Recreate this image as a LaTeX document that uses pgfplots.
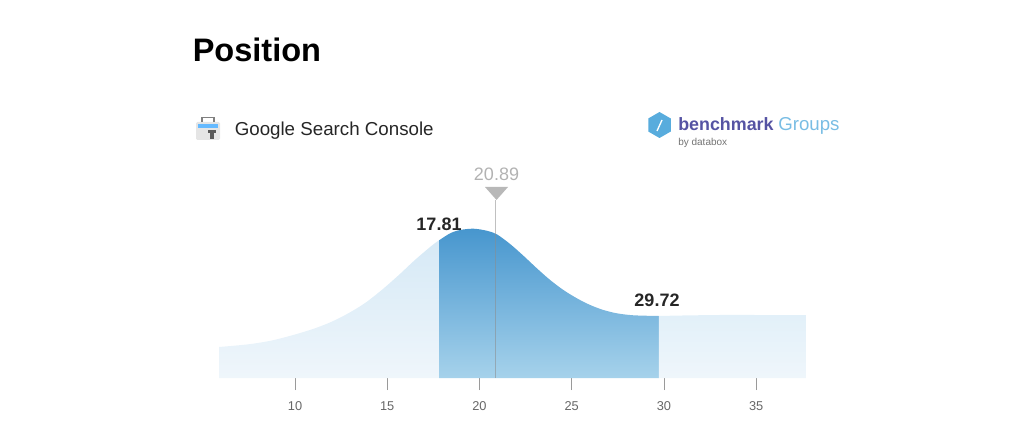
\documentclass[border=0pt]{standalone}
\usepackage{pgfplots}
\pgfplotsset{compat=1.18}
\usepackage{fontspec}
\setmainfont{Liberation Sans}
\usetikzlibrary{shapes.geometric}
\definecolor{darktop}{HTML}{4796CE}
\definecolor{darkbot}{HTML}{A6D2EB}
\definecolor{lighttop}{HTML}{D6E9F6}
\definecolor{lightbot}{HTML}{EFF6FB}
\definecolor{righttop}{HTML}{E2F0F9}
\definecolor{tickc}{HTML}{9A9A9A}
\definecolor{benchc}{HTML}{5553A3}
\definecolor{groupc}{HTML}{58ACDD}
\begin{document}
\begin{tikzpicture}
\begin{axis}[
  at={(164.25pt,43.5pt)}, anchor=south west,
  scale only axis, width=440.25pt, height=112.5pt,
  xmin=5.88, xmax=37.7, ymin=0, ymax=150,
  clip=false,
  axis line style={draw=none},
  ytick=\empty,
  xtick={10,15,20,25,30,35},
  xtick pos=bottom,
  tick style={draw=tickc,line width=0.6pt},
  major tick length=9pt,
  tick align=outside,
  xticklabel style={font=\fontsize{9.6}{11}\selectfont,text=black!60,yshift=-5.5pt},
  /pgf/number format/assume math mode=true,
]
\addplot[draw=none,smooth,top color=lighttop,bottom color=lightbot] coordinates {
(5.88,31)(7.47,33.7)(8.74,37.5)(10.0,43.5)(11.08,49.7)(11.99,56.3)(12.89,64.7)(13.8,75)(14.7,88)(15.6,102.5)(16.5,118)(17.41,132.3)(17.81,137.7)} \closedcycle;
\addplot[draw=none,smooth,top color=darktop,bottom color=darkbot] coordinates {
(17.81,137.7)(18.41,144.7)(18.95,148)(19.67,149.3)(20.39,147.3)(20.94,143.7)(21.66,134)(22.38,122.3)(23.11,109.7)(23.83,98)(24.55,88)(25.28,79.7)(26.0,73)(26.72,68)(27.45,64.7)(28.35,62.7)(29.72,62)} \closedcycle;
\addplot[draw=none,smooth,top color=righttop,bottom color=lightbot] coordinates {
(29.72,62)(31.0,62.5)(33.0,63)(35.0,63)(37.7,63)} \closedcycle;
\addplot[draw=black!45,opacity=0.55,line width=0.7pt] coordinates {(20.89,0)(20.89,178)};
\end{axis}
\begin{scope}[x=0.75pt,y=0.75pt]
\path (0,0) rectangle (1024,436);
\fill[fill=black!28] (485,249) -- (508,249) -- (496.5,236) -- cycle;
\node[anchor=base,font=\fontsize{13.5}{16}\selectfont,text=black!30] at (496.5,255) {20.89};
\node[anchor=base,font=\bfseries\fontsize{13.5}{16}\selectfont,text=black!85] at (439,205) {17.81};
\node[anchor=base,font=\bfseries\fontsize{13.5}{16}\selectfont,text=black!85] at (657,130) {29.72};
\node[anchor=base west,font=\bfseries\fontsize{24.4}{28}\selectfont,inner sep=0pt] at (192.5,374) {Position};
\node[anchor=base west,font=\fontsize{14.05}{17}\selectfont,text=black!85,inner sep=0pt] at (234.5,300) {Google Search Console};
% icon
\fill[black!10,rounded corners=1pt] (196,296) rectangle (220,314);
\fill[blue!45!cyan!60] (198,308) rectangle (218,312);
\draw[black!50,line width=0.8pt] (202,314) -- (202,318.5) -- (214,318.5) -- (214,314);
\fill[black!65] (210,297) rectangle (214,303);
\fill[black!65] (208,303) rectangle (216,306);
% logo
\node[regular polygon,regular polygon sides=6,fill=groupc,minimum size=19.5pt,inner sep=0pt,rotate=30] at (659.5,311) {};
\draw[white,line width=1pt] (657,305) -- (662,316);
\node[anchor=base west,font=\bfseries\fontsize{13.4}{16}\selectfont,text=benchc,inner sep=0pt] at (678,305) {benchmark};
\node[anchor=base west,font=\fontsize{14}{17}\selectfont,text=groupc!80,inner sep=0pt] at (778,305) {Groups};
\node[anchor=base west,font=\fontsize{7.5}{9}\selectfont,text=black!55,inner sep=0pt] at (678,290) {by databox};
\end{scope}
\end{tikzpicture}
\end{document}
